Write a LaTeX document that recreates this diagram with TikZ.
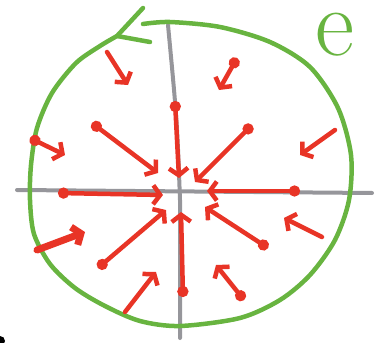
\documentclass[tikz,border=0pt]{standalone}
\usepackage{fontspec}
\usepackage{tikz}
\usetikzlibrary{arrows.meta}
\definecolor{penred}{RGB}{232,52,38}
\definecolor{pengreen}{RGB}{104,180,64}
\definecolor{pengray}{RGB}{150,150,155}

\begin{document}
\begin{tikzpicture}[
    x=1pt, y=-1pt,
    axis/.style={draw=pengray, line width=4pt, line cap=round},
    contour/.style={draw=pengreen, line width=4.5pt, line cap=round, line join=round},
    flow/.style={draw=penred, line width=4.5pt, line cap=round, line join=round, -{Straight Barb[length=7pt,width=19pt]}},
    dotflow/.style={flow, {Circle[length=11pt]}-{Straight Barb[length=7pt,width=19pt]}},
]
    \useasboundingbox (0,0) rectangle (376,343);
    % axes
    \draw[axis] (17,190) -- (372,193);
    \draw[axis] (168,25) .. controls (177,120) .. (180,200) -- (180,338);
    % contour with its arrow
    \coordinate (tip) at (117,36);
    \draw[contour] plot[smooth] coordinates {(143,24) (170,22) (220,27) (270,42) (310,67)
        (338,108) (351,155) (349,200) (335,240) (310,275) (280,300) (240,318) (180,326)
        (140,321) (105,306) (75,288) (50,264) (34,234) (30,200) (31,165) (37,128) (52,93)
        (76,63) (100,46) (tip)} -- (143,8);
    \draw[contour] (tip) -- (150,42);
    \node[text=pengreen, font=\fontsize{96}{96}\selectfont, inner sep=0pt, anchor=base west] (elabel) at (315,55) {e};
    % field arrows
    \draw[flow] (107,52) -- (128,85);
    \draw[dotflow] (237,58) -- (219,90);
    \draw[dotflow] (175,101) -- (179,178);
    \draw[dotflow] (92,123) -- (158,173);
    \draw[dotflow] (252,125) -- (195,182);
    \draw[flow] (335,130) -- (300,155);
    \draw[dotflow] (30,138) -- (65,155);
    \draw[dotflow] (58,193) -- (163,195);
    \draw[dotflow] (300,191) -- (207,191);
    \draw[flow, line width=7pt] (37,250) -- (85,232);
    \draw[dotflow] (98,268) -- (166,210);
    \draw[dotflow] (183,297) -- (181,212);
    \draw[dotflow] (268,248) -- (205,207);
    \draw[flow] (322,237) -- (284,218);
    \draw[flow] (125,312) -- (156,272);
    \draw[dotflow] (244,300) -- (216,265);
    % stray pen mark
    \fill (0,341) circle (5);
\end{tikzpicture}
\end{document}
